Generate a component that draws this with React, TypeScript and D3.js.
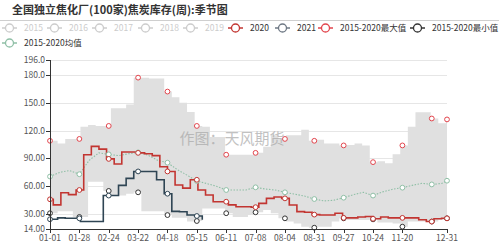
import React from "react";
import * as d3 from "d3";

// ---------- data ----------
const TITLE = "全国独立焦化厂(100家)焦炭库存(周):季节图";
const WATERMARK = "作图：天风期货";
const Y_TICKS = [14, 30, 60, 90, 120, 150, 180, 196];
const X_LABELS = ["01-01", "01-28", "02-24", "03-22", "04-18", "05-15", "06-11", "07-08", "08-04", "08-31", "09-27", "10-24", "11-20", "12-31"];
const MARKER_DATES = [...X_LABELS, "12-17"];

// weekly 2015-2020 max / min (one value per 7 days from 01-01)
const MAX = [109, 106, 111, 111, 124, 126, 125, 125, 144, 144, 148, 177, 177, 176, 176, 162, 156, 150, 140, 125, 124, 113, 113, 94, 94, 94, 94, 96, 102.6, 115, 111, 115, 115, 121, 109, 110, 106, 106, 104, 104.5, 106, 104, 86, 87, 84.7, 94.4, 104, 124, 139.6, 139.6, 133, 128, 132];
const MIN = [31, 33, 33, 27, 27, 65, 65, 55, 50, 50, 52, 53.5, 33, 33, 33, 29, 26, 26, 22, 22.6, 36, 36, 36, 31, 27, 27, 29, 32, 34.5, 31, 25.5, 22, 20, 16.5, 15.4, 16.5, 16.5, 22, 25.5, 23.7, 23.7, 23.7, 24.4, 21, 21, 20, 16.5, 22, 22, 22, 22, 24, 25.5];
// 2020: value on 01-01, then weekly from 01-04
const Y2020_FIRST = 46;
const Y2020 = [40, 53, 51, 56, 94, 103, 100, 89.5, 84, 97, 97, 96, 95, 93, 81, 76, 61.4, 58, 67, 56, 50.6, 43.4, 43.4, 40, 38, 38, 37.5, 41.6, 47, 48.5, 47, 39.8, 32.7, 32, 29.5, 29, 29, 31, 26, 26, 27, 27.5, 25, 27, 26, 26, 26, 26, 24, 22, 25, 25.5];
// 2021: weekly from 01-01 (data ends mid-May)
const Y2021 = [24.5, 26, 25.5, 25.5, 22, 22, 22, 50, 50, 61, 68.5, 76, 76, 76, 67, 52, 33, 32.6, 29, 28, 24];
// 2015-2020 average, every 9 days from 01-01, plus 12-31
const AVG = [70.5, 75, 77, 73, 88, 96, 94.4, 93, 95, 96.5, 93.5, 88, 85.4, 78, 72, 65.7, 63, 60, 56, 56, 56, 58.9, 57, 56, 53.5, 51.5, 49.5, 46.3, 44.2, 45, 47.7, 51, 53.5, 50, 54, 56.8, 58.5, 61, 63.2, 62, 63, 66];

// ---------- helpers ----------
const START = new Date(2020, 0, 1);
const parse = d3.timeParse("%Y-%m-%d");
const dayOf = (mmdd: string) => d3.timeDay.count(START, parse("2020-" + mmdd) as Date);
const LAST_DAY = dayOf("12-31");

type P = { d: number; v: number };
const weekly = (vals: number[], offset: number, extend: boolean): P[] => {
  const pts = vals.map((v, i) => ({ d: offset + 7 * i, v }));
  if (extend) pts.push({ d: LAST_DAY, v: vals[vals.length - 1] });
  return pts;
};
const maxPts = weekly(MAX, 0, true);
const minPts = weekly(MIN, 0, true);
const p2020: P[] = [{ d: 0, v: Y2020_FIRST }, ...weekly(Y2020, 3, true)];
const p2021: P[] = weekly(Y2021, 0, false);
const avgPts: P[] = AVG.map((v, i) => ({ d: i === AVG.length - 1 ? LAST_DAY : 9 * i, v }));

const stepVal = (pts: P[], day: number) => {
  let val: number | null = null;
  for (const p of pts) if (p.d <= day) val = p.v;
  return val;
};

const W = 499, H = 245;
const x = d3.scaleLinear().domain([0, LAST_DAY]).range([50, 447]);
const y = d3.scaleLinear().domain([14, 196]).range([229, 60]);

const FONT = "'Noto Sans CJK SC', 'Noto Sans', sans-serif";
const C2020 = "#c23531";
const C2021 = "#2f4554";
const CMAX = "#e2454d";
const CMIN = "#333333";
const CAVG = "#8fbfa6";
const CBAND = "#e0e0e0";

const stepLine = d3.line<P>().x((p) => x(p.d)).y((p) => y(p.v)).curve(d3.curveStepAfter);
const linLine = d3.line<P>().x((p) => x(p.d)).y((p) => y(p.v));
const band = d3
  .area<P>()
  .x((p) => x(p.d))
  .y1((p) => y(p.v))
  .y0((p, i) => y(minPts[i].v))
  .curve(d3.curveStepAfter);

const markerDays = MARKER_DATES.map(dayOf);
const labelDays = X_LABELS.map(dayOf);

const legendRow1 = [
  { name: "2015", color: "#cccccc", off: true, x: 2 },
  { name: "2016", color: "#cccccc", off: true, x: 47 },
  { name: "2017", color: "#cccccc", off: true, x: 92 },
  { name: "2018", color: "#cccccc", off: true, x: 138 },
  { name: "2019", color: "#cccccc", off: true, x: 183 },
  { name: "2020", color: C2020, off: false, x: 228 },
  { name: "2021", color: "#6e7884", off: false, x: 275 },
  { name: "2015-2020最大值", color: CMAX, off: false, x: 318 },
  { name: "2015-2020最小值", color: CMIN, off: false, x: 410 },
];
const legendRow2 = [{ name: "2015-2020均值", color: CAVG, off: false, x: 2 }];

function LegendItem({ item, cy }: { item: any; cy: number }) {
  return (
    <g>
      <line x1={item.x} x2={item.x + 15} y1={cy} y2={cy} stroke={item.color} strokeWidth={1.5} />
      <circle cx={item.x + 7.5} cy={cy} r={4} fill="#fff" stroke={item.color} strokeWidth={1.3} />
      <text x={item.x + 22} y={cy + 3} fontSize={8.5} fill={item.off ? "#cccccc" : "#333"} fontFamily={FONT}>
        {item.name}
      </text>
    </g>
  );
}

function Markers({ pts, color, limit }: { pts: P[]; color: string; limit?: number }) {
  return (
    <g>
      {markerDays
        .filter((d) => (limit === undefined ? true : d <= limit))
        .map((d, i) => {
          const v = stepVal(pts, d);
          if (v === null) return null;
          return <circle key={i} cx={x(d)} cy={y(v)} r={2.4} fill="#fff" stroke={color} strokeWidth={1} />;
        })}
    </g>
  );
}

export default function App() {
  const last2021 = p2021[p2021.length - 1].d;
  return (
    <div style={{ position: "absolute", left: 0, top: 0 }}>
      <svg width={W} height={H} style={{ display: "block", background: "#fff" }}>
        <text x={12} y={14} fontSize={11} fontWeight="bold" fill="#333" fontFamily={FONT}>
          {TITLE}
        </text>
        <line x1={0} x2={499} y1={20.5} y2={20.5} stroke="#cfcfcf" strokeWidth={1} />
        {legendRow1.map((it) => (
          <LegendItem key={it.name} item={it} cy={28} />
        ))}
        {legendRow2.map((it) => (
          <LegendItem key={it.name} item={it} cy={43} />
        ))}

        {/* grid */}
        {Y_TICKS.filter((t) => t !== 14).map((t) => (
          <line key={t} x1={50} x2={447} y1={Math.round(y(t)) + 0.5} y2={Math.round(y(t)) + 0.5} stroke="#e6e6e6" />
        ))}

        {/* band */}
        <path d={band(maxPts) || ""} fill={CBAND} />

        <text x={232} y={144} fontSize={15} fill="#a8a8a8" opacity={0.7} textAnchor="middle" fontFamily={FONT}>
          {WATERMARK}
        </text>

        {/* avg */}
        <path d={linLine(avgPts) || ""} fill="none" stroke={CAVG} strokeWidth={1.1} strokeDasharray="1.5 1.5" />
        {/* 2021 */}
        <path d={stepLine(p2021) || ""} fill="none" stroke={C2021} strokeWidth={1.6} />
        {/* 2020 */}
        <path d={stepLine(p2020) || ""} fill="none" stroke={C2020} strokeWidth={1.6} />

        <Markers pts={avgPts} color={CAVG} />
        <Markers pts={maxPts} color={CMAX} />
        <Markers pts={minPts} color={CMIN} />
        <Markers pts={p2021} color={C2021} limit={last2021} />
        <Markers pts={p2020} color={C2020} />

        {/* y axis */}
        <line x1={50.5} x2={50.5} y1={60} y2={229} stroke="#333" />
        {Y_TICKS.map((t) => (
          <g key={t}>
            <line x1={46} x2={50} y1={Math.round(y(t)) + 0.5} y2={Math.round(y(t)) + 0.5} stroke="#333" />
            <text x={45} y={y(t) + 3} fontSize={8.5} textAnchor="end" fill="#555" fontFamily={FONT}>
              {t.toPrecision(4)}
            </text>
          </g>
        ))}
        {/* x axis */}
        <line x1={50} x2={447} y1={229.5} y2={229.5} stroke="#333" />
        {labelDays.map((d, i) => (
          <g key={i}>
            <line x1={Math.round(x(d)) + 0.5} x2={Math.round(x(d)) + 0.5} y1={229} y2={233} stroke="#333" />
            <text x={x(d)} y={241} fontSize={8.5} textAnchor="middle" fill="#555" fontFamily={FONT}>
              {X_LABELS[i]}
            </text>
          </g>
        ))}
      </svg>
    </div>
  );
}
